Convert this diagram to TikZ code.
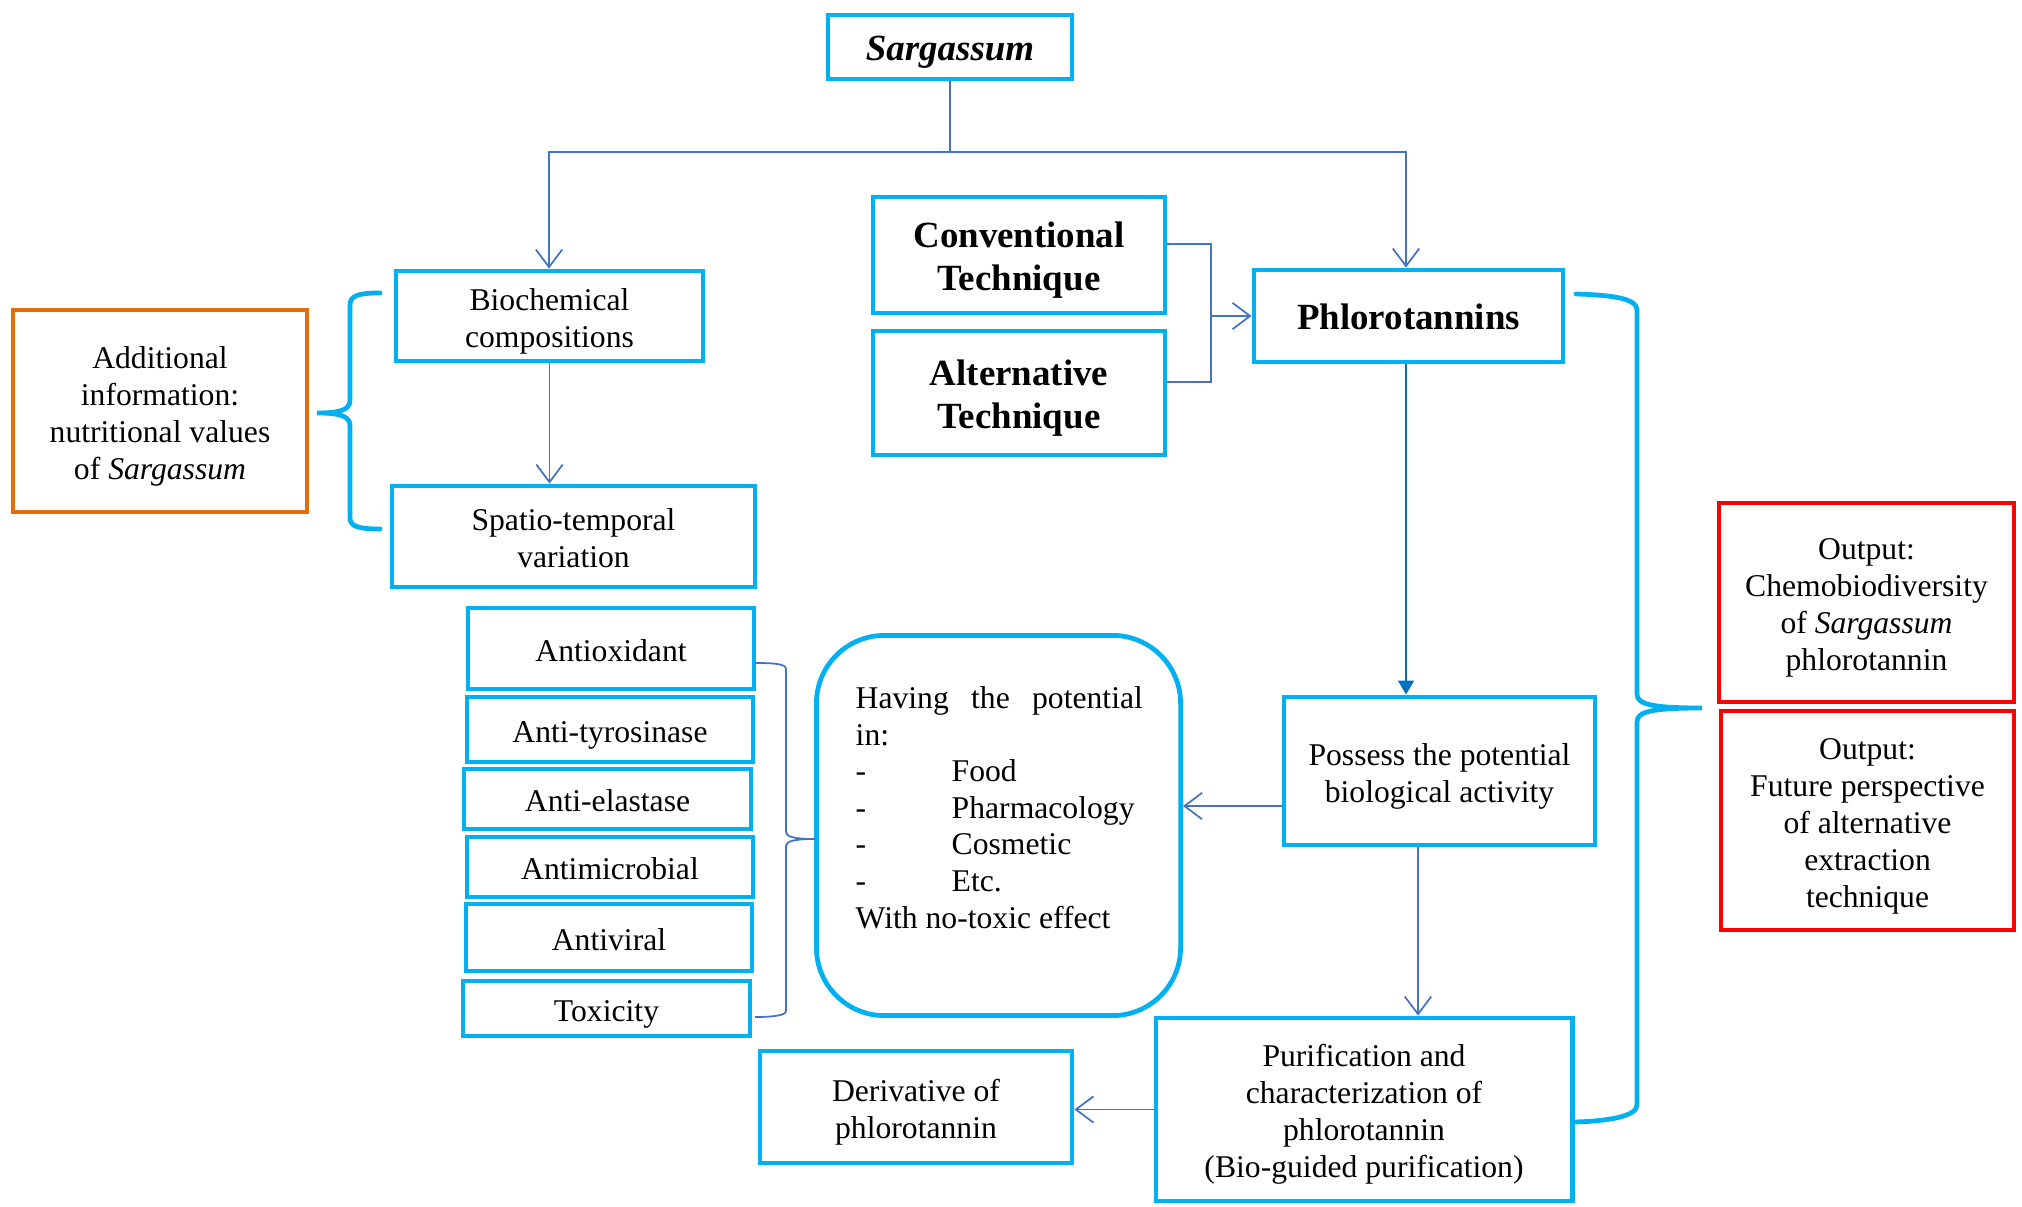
\documentclass[tikz,border=0pt]{standalone}
\usepackage{fontspec}
\setmainfont{Liberation Serif}
\usetikzlibrary{arrows.meta}
\definecolor{cy}{HTML}{00B0F0}
\definecolor{lnc}{HTML}{4472C4}
\definecolor{dlc}{HTML}{0070C0}
\definecolor{orangec}{HTML}{E46C0A}
\definecolor{redc}{HTML}{FF0000}
\newcommand\tx[1]{\raisebox{-1.5pt}[\height][\depth]{\begin{tabular}{@{}c@{}}#1\end{tabular}}}
\begin{document}
\begin{tikzpicture}[x=0.01cm,y=-0.01cm,
  box/.style={draw=cy, line width=1.35pt, inner sep=0pt, font=\fontsize{9}{10.5}\selectfont},
  bbox/.style={box, font=\fontsize{10.5}{12.4}\selectfont\bfseries},
  obox/.style={box, draw=orangec},
  rbox/.style={box, draw=redc},
  conn/.style={draw=lnc, line width=0.5pt},
  arr/.style={conn, -{Straight Barb[length=5pt,width=7.5pt]}},
  farr/.style={draw=dlc, line width=0.75pt, -{Triangle[length=4pt,width=4.5pt]}},
  brace/.style={draw=cy, line width=1.35pt, line cap=round},
  tbrace/.style={draw=lnc, line width=0.5pt}]
\useasboundingbox (0,0) rectangle (2022,1207);

% boxes
\node[bbox, minimum width=2.44cm, minimum height=0.64cm] (sarg) at (950,47) {\tx{\itshape Sargassum}};
\node[box, minimum width=3.07cm, minimum height=0.90cm] (bio) at (549.5,316) {\tx{Biochemical\\compositions}};
\node[box, minimum width=3.63cm, minimum height=1.01cm] (spat) at (573.5,536.5) {\tx{Spatio-temporal\\variation}};
\node[obox, minimum width=2.94cm, minimum height=2.02cm] (add) at (160,411) {\tx{Additional\\information:\\nutritional values\\of \textit{Sargassum}}};
\node[bbox, minimum width=2.92cm, minimum height=1.16cm] (conv) at (1019,255) {\tx{Conventional\\Technique}};
\node[bbox, minimum width=2.92cm, minimum height=1.24cm] (alt) at (1019,393) {\tx{Alternative\\Technique}};
\node[bbox, minimum width=3.09cm, minimum height=0.92cm] (phlo) at (1408.5,316) {\tx{Phlorotannins}};
\node[rbox, minimum width=2.95cm, minimum height=1.99cm] (out1) at (1866.5,602.5) {\tx{Output:\\Chemobiodiversity\\of \textit{Sargassum}\\phlorotannin}};
\node[rbox, minimum width=2.93cm, minimum height=2.19cm] (out2) at (1867.5,820.5) {\tx{Output:\\Future perspective\\of alternative\\extraction\\technique}};
\node[box, minimum width=3.11cm, minimum height=1.48cm] (poss) at (1439.5,771) {\tx{Possess the potential\\biological activity}};
\node[box, rounded corners=0.68cm, minimum width=3.64cm, minimum height=3.80cm] (pot) at (998.5,825.5) {};
\node[anchor=north west, inner sep=0pt, align=left, font=\fontsize{9}{10.4}\selectfont] (pottxt) at (855,686)
  {\makebox[2.87cm][s]{Having\hfill the\hfill potential}\\
   in:\\
   \makebox[0.96cm][l]{-}Food\\
   \makebox[0.96cm][l]{-}Pharmacology\\
   \makebox[0.96cm][l]{-}Cosmetic\\
   \makebox[0.96cm][l]{-}Etc.\\
   With no-toxic effect};
\node[box, minimum width=4.16cm, minimum height=1.83cm] (purif) at (1364,1109.5) {\tx{Purification and\\characterization of\\phlorotannin\\(Bio-guided purification)}};
\node[box, minimum width=3.12cm, minimum height=1.12cm] (deriv) at (916,1107) {\tx{Derivative of\\phlorotannin}};

\node[box, minimum width=2.86cm, minimum height=0.81cm] (antiox) at (611,648.5) {\tx{Antioxidant}};
\node[box, minimum width=2.86cm, minimum height=0.65cm] (antityr) at (610,729.5) {\tx{Anti-tyrosinase}};
\node[box, minimum width=2.87cm, minimum height=0.60cm] (antiel) at (607.5,799) {\tx{Anti-elastase}};
\node[box, minimum width=2.86cm, minimum height=0.60cm] (antimic) at (610,867) {\tx{Antimicrobial}};
\node[box, minimum width=2.86cm, minimum height=0.67cm] (antivir) at (609,937.5) {\tx{Antiviral}};
\node[box, minimum width=2.87cm, minimum height=0.55cm] (tox) at (606.5,1008.5) {\tx{Toxicity}};

% connectors
\coordinate (j) at (950,152);
\draw[conn] (sarg.south) -- (j);
\draw[arr] (j) -| ([xshift=-0.005cm]bio.north);
\draw[arr] (j) -| ([xshift=-0.025cm]phlo.north);
\coordinate (m) at (1211,316);
\draw[conn] ([yshift=0.11cm]conv.east) -| (m);
\draw[conn] ([yshift=0.11cm]alt.east) -| (m);
\draw[arr] (m) -- (phlo.west);
\draw[arr] (bio.south) -- (bio.south |- spat.north);
\draw[farr] ([xshift=-0.025cm]phlo.south) -- ([xshift=-0.025cm]phlo.south |- poss.north);
\draw[arr] ([yshift=-0.35cm]poss.west) -- ([yshift=-0.35cm]poss.west -| pot.east);
\draw[arr] ([xshift=-0.215cm]poss.south) -- ([xshift=-0.215cm]poss.south |- purif.north);
\draw[arr] (purif.west) -- (purif.west -| deriv.east);

% braces
\draw[brace] (380,293) .. controls (360,293) and (350,295) .. (350,305) -- (350,400)
  .. controls (350,410) and (340,413) .. (317,413)
  .. controls (340,413) and (350,416) .. (350,426) -- (350,518)
  .. controls (350,527) and (360,529) .. (380,529);
\draw[tbrace] (755,663) .. controls (775,663) and (786,664) .. (786,669) -- (786,832)
  .. controls (786,837) and (795,839) .. (815,839)
  .. controls (795,839) and (786,841) .. (786,846) -- (786,1011)
  .. controls (786,1015) and (775,1017) .. (755,1017);
\draw[brace] (1576,294) .. controls (1610,295) and (1637,298) .. (1637,310) -- (1637,694)
  .. controls (1637,704) and (1650,708) .. (1702,708)
  .. controls (1650,708) and (1637,712) .. (1637,722) -- (1637,1105)
  .. controls (1637,1116) and (1610,1121) .. (1575,1122);
\end{tikzpicture}
\end{document}
